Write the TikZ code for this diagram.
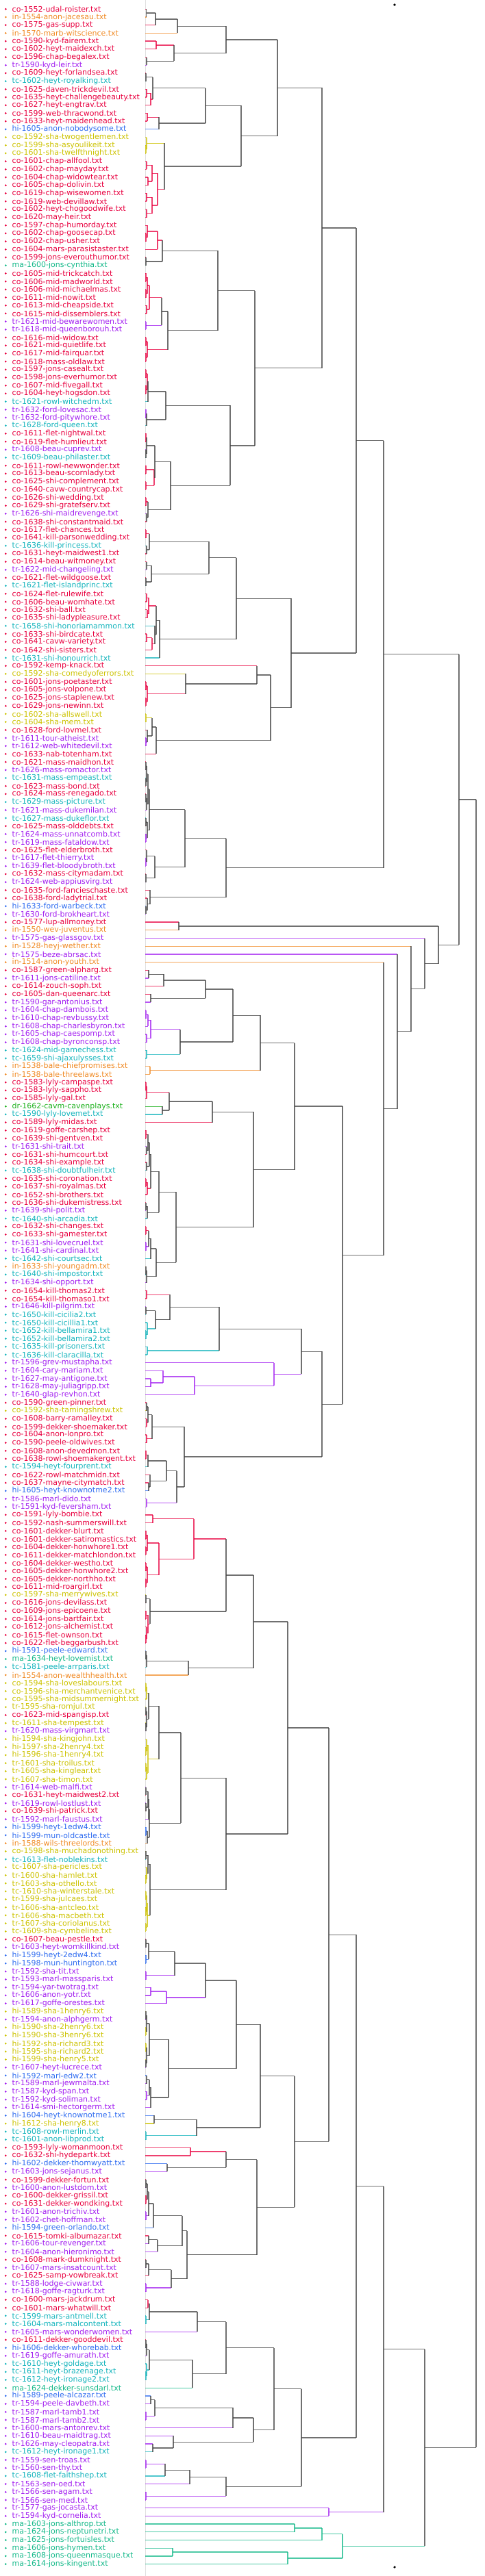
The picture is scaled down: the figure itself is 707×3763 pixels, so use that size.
\documentclass[tikz,border=0pt]{standalone}
\usepackage{fontspec}
\setmainfont{DejaVu Sans}
\usetikzlibrary{calc}
\definecolor{cco}{HTML}{E8003F}
\definecolor{cin}{HTML}{F08A24}
\definecolor{ctr}{HTML}{A21EF0}
\definecolor{ctc}{HTML}{14B4BC}
\definecolor{chi}{HTML}{2F6CF0}
\definecolor{cma}{HTML}{12B888}
\definecolor{cdr}{HTML}{1CB01C}
\definecolor{csh}{HTML}{CCC200}
\colorlet{cmix}{black!75}
% join two branches at height #4
\newcommand{\join}[4]{%
    \coordinate (#1m) at ($(#2)!0.5!(#3)$);
    \coordinate (#1) at (#4,0 |- #1m);
    \edef\ca{\csname k@#2\endcsname}%
    \edef\cb{\csname k@#3\endcsname}%
    \ifx\ca\cb \expandafter\xdef\csname k@#1\endcsname{\ca}%
    \else \expandafter\xdef\csname k@#1\endcsname{mix}\fi
    \edef\cc{c\csname k@#1\endcsname}%
    \draw[link,draw=c\ca] (#2) -- (#2 -| #1);
    \draw[link,draw=c\cb] (#3) -- (#3 -| #1);
    \draw[link,draw=\cc] (#2 -| #1) -- (#3 -| #1);
}
\tikzset{
    lab/.style={anchor=west,inner sep=0pt,font=\fontsize{11}{13}\selectfont},
    link/.style={line width=1.3pt,draw opacity=0.75}
}
\begin{document}
\begin{tikzpicture}[x=1pt,y=-1pt]
    \useasboundingbox (0,0) rectangle (707,3763);
    \draw[black!12,line width=1pt] (212,0) -- (212,3763);
    \fill (576,7) circle (1.8pt);
    \fill (576,3750) circle (1.8pt);
    % leaves
    \foreach \lab/\col [count=\i] in {
        co-1552-udal-roister.txt/co, in-1554-anon-jacesau.txt/in, co-1575-gas-supp.txt/co, in-1570-marb-witscience.txt/in,
        co-1590-kyd-fairem.txt/co, co-1602-heyt-maidexch.txt/co, co-1596-chap-begalex.txt/co, tr-1590-kyd-leir.txt/tr,
        co-1609-heyt-forlandsea.txt/co, tc-1602-heyt-royalking.txt/tc, co-1625-daven-trickdevil.txt/co, co-1635-heyt-challengebeauty.txt/co,
        co-1627-heyt-engtrav.txt/co, co-1599-web-thracwond.txt/co, co-1633-heyt-maidenhead.txt/co, hi-1605-anon-nobodysome.txt/hi,
        co-1592-sha-twogentlemen.txt/sh, co-1599-sha-asyoulikeit.txt/sh, co-1601-sha-twelfthnight.txt/sh, co-1601-chap-allfool.txt/co,
        co-1602-chap-mayday.txt/co, co-1604-chap-widowtear.txt/co, co-1605-chap-dolivin.txt/co, co-1619-chap-wisewomen.txt/co,
        co-1619-web-devillaw.txt/co, co-1602-heyt-chogoodwife.txt/co, co-1620-may-heir.txt/co, co-1597-chap-humorday.txt/co,
        co-1602-chap-goosecap.txt/co, co-1602-chap-usher.txt/co, co-1604-mars-parasistaster.txt/co, co-1599-jons-everouthumor.txt/co,
        ma-1600-jons-cynthia.txt/ma, co-1605-mid-trickcatch.txt/co, co-1606-mid-madworld.txt/co, co-1606-mid-michaelmas.txt/co,
        co-1611-mid-nowit.txt/co, co-1613-mid-cheapside.txt/co, co-1615-mid-dissemblers.txt/co, tr-1621-mid-bewarewomen.txt/tr,
        tr-1618-mid-queenborouh.txt/tr, co-1616-mid-widow.txt/co, co-1621-mid-quietlife.txt/co, co-1617-mid-fairquar.txt/co,
        co-1618-mass-oldlaw.txt/co, co-1597-jons-casealt.txt/co, co-1598-jons-everhumor.txt/co, co-1607-mid-fivegall.txt/co,
        co-1604-heyt-hogsdon.txt/co, tc-1621-rowl-witchedm.txt/tc, tr-1632-ford-lovesac.txt/tr, tr-1632-ford-pitywhore.txt/tr,
        tc-1628-ford-queen.txt/tc, co-1611-flet-nightwal.txt/co, co-1619-flet-humlieut.txt/co, tr-1608-beau-cuprev.txt/tr,
        tc-1609-beau-philaster.txt/tc, co-1611-rowl-newwonder.txt/co, co-1613-beau-scornlady.txt/co, co-1625-shi-complement.txt/co,
        co-1640-cavw-countrycap.txt/co, co-1626-shi-wedding.txt/co, co-1629-shi-gratefserv.txt/co, tr-1626-shi-maidrevenge.txt/tr,
        co-1638-shi-constantmaid.txt/co, co-1617-flet-chances.txt/co, co-1641-kill-parsonwedding.txt/co, tc-1636-kill-princess.txt/tc,
        co-1631-heyt-maidwest1.txt/co, co-1614-beau-witmoney.txt/co, tr-1622-mid-changeling.txt/tr, co-1621-flet-wildgoose.txt/co,
        tc-1621-flet-islandprinc.txt/tc, co-1624-flet-rulewife.txt/co, co-1606-beau-womhate.txt/co, co-1632-shi-ball.txt/co,
        co-1635-shi-ladypleasure.txt/co, tc-1658-shi-honoriamammon.txt/tc, co-1633-shi-birdcate.txt/co, co-1641-cavw-variety.txt/co,
        co-1642-shi-sisters.txt/co, tc-1631-shi-honourrich.txt/tc, co-1592-kemp-knack.txt/co, co-1592-sha-comedyoferrors.txt/sh,
        co-1601-jons-poetaster.txt/co, co-1605-jons-volpone.txt/co, co-1625-jons-staplenew.txt/co, co-1629-jons-newinn.txt/co,
        co-1602-sha-allswell.txt/sh, co-1604-sha-mem.txt/sh, co-1628-ford-lovmel.txt/co, tr-1611-tour-atheist.txt/tr,
        tr-1612-web-whitedevil.txt/tr, co-1633-nab-totenham.txt/co, co-1621-mass-maidhon.txt/co, tr-1626-mass-romactor.txt/tr,
        tc-1631-mass-empeast.txt/tc, co-1623-mass-bond.txt/co, co-1624-mass-renegado.txt/co, tc-1629-mass-picture.txt/tc,
        tr-1621-mass-dukemilan.txt/tr, tc-1627-mass-dukeflor.txt/tc, co-1625-mass-olddebts.txt/co, tr-1624-mass-unnatcomb.txt/tr,
        tr-1619-mass-fataldow.txt/tr, co-1625-flet-elderbroth.txt/co, tr-1617-flet-thierry.txt/tr, tr-1639-flet-bloodybroth.txt/tr,
        co-1632-mass-citymadam.txt/co, tr-1624-web-appiusvirg.txt/tr, co-1635-ford-fancieschaste.txt/co, co-1638-ford-ladytrial.txt/co,
        hi-1633-ford-warbeck.txt/hi, tr-1630-ford-brokheart.txt/tr, co-1577-lup-allmoney.txt/co, in-1550-wev-juventus.txt/in,
        tr-1575-gas-glassgov.txt/tr, in-1528-heyj-wether.txt/in, tr-1575-beze-abrsac.txt/tr, in-1514-anon-youth.txt/in,
        co-1587-green-alpharg.txt/co, tr-1611-jons-catiline.txt/tr, co-1614-zouch-soph.txt/co, co-1605-dan-queenarc.txt/co,
        tr-1590-gar-antonius.txt/tr, tr-1604-chap-dambois.txt/tr, tr-1610-chap-revbussy.txt/tr, tr-1608-chap-charlesbyron.txt/tr,
        tr-1605-chap-caespomp.txt/tr, tr-1608-chap-byronconsp.txt/tr, tc-1624-mid-gamechess.txt/tc, tc-1659-shi-ajaxulysses.txt/tc,
        in-1538-bale-chiefpromises.txt/in, in-1538-bale-threelaws.txt/in, co-1583-lyly-campaspe.txt/co, co-1583-lyly-sappho.txt/co,
        co-1585-lyly-gal.txt/co, dr-1662-cavm-cavenplays.txt/dr, tc-1590-lyly-lovemet.txt/tc, co-1589-lyly-midas.txt/co,
        co-1619-goffe-carshep.txt/co, co-1639-shi-gentven.txt/co, tr-1631-shi-trait.txt/tr, co-1631-shi-humcourt.txt/co,
        co-1634-shi-example.txt/co, tc-1638-shi-doubtfulheir.txt/tc, co-1635-shi-coronation.txt/co, co-1637-shi-royalmas.txt/co,
        co-1652-shi-brothers.txt/co, co-1636-shi-dukemistress.txt/co, tr-1639-shi-polit.txt/tr, tc-1640-shi-arcadia.txt/tc,
        co-1632-shi-changes.txt/co, co-1633-shi-gamester.txt/co, tr-1631-shi-lovecruel.txt/tr, tr-1641-shi-cardinal.txt/tr,
        tc-1642-shi-courtsec.txt/tc, in-1633-shi-youngadm.txt/in, tc-1640-shi-impostor.txt/tc, tr-1634-shi-opport.txt/tr,
        co-1654-kill-thomas2.txt/co, co-1654-kill-thomaso1.txt/co, tr-1646-kill-pilgrim.txt/tr, tc-1650-kill-cicilia2.txt/tc,
        tc-1650-kill-cicillia1.txt/tc, tc-1652-kill-bellamira1.txt/tc, tc-1652-kill-bellamira2.txt/tc, tc-1635-kill-prisoners.txt/tc,
        tc-1636-kill-claracilla.txt/tc, tr-1596-grev-mustapha.txt/tr, tr-1604-cary-mariam.txt/tr, tr-1627-may-antigone.txt/tr,
        tr-1628-may-juliagripp.txt/tr, tr-1640-glap-revhon.txt/tr, co-1590-green-pinner.txt/co, co-1592-sha-tamingshrew.txt/sh,
        co-1608-barry-ramalley.txt/co, co-1599-dekker-shoemaker.txt/co, co-1604-anon-lonpro.txt/co, co-1590-peele-oldwives.txt/co,
        co-1608-anon-devedmon.txt/co, co-1638-rowl-shoemakergent.txt/co, tc-1594-heyt-fourprent.txt/tc, co-1622-rowl-matchmidn.txt/co,
        co-1637-mayne-citymatch.txt/co, hi-1605-heyt-knownotme2.txt/hi, tr-1586-marl-dido.txt/tr, tr-1591-kyd-feversham.txt/tr,
        co-1591-lyly-bombie.txt/co, co-1592-nash-summerswill.txt/co, co-1601-dekker-blurt.txt/co, co-1601-dekker-satiromastics.txt/co,
        co-1604-dekker-honwhore1.txt/co, co-1611-dekker-matchlondon.txt/co, co-1604-dekker-westho.txt/co, co-1605-dekker-honwhore2.txt/co,
        co-1605-dekker-northho.txt/co, co-1611-mid-roargirl.txt/co, co-1597-sha-merrywives.txt/sh, co-1616-jons-devilass.txt/co,
        co-1609-jons-epicoene.txt/co, co-1614-jons-bartfair.txt/co, co-1612-jons-alchemist.txt/co, co-1615-flet-ownson.txt/co,
        co-1622-flet-beggarbush.txt/co, hi-1591-peele-edward.txt/hi, ma-1634-heyt-lovemist.txt/ma, tc-1581-peele-arrparis.txt/tc,
        in-1554-anon-wealthhealth.txt/in, co-1594-sha-loveslabours.txt/sh, co-1596-sha-merchantvenice.txt/sh, co-1595-sha-midsummernight.txt/sh,
        tr-1595-sha-romjul.txt/sh, co-1623-mid-spangisp.txt/co, tc-1611-sha-tempest.txt/sh, tr-1620-mass-virgmart.txt/tr,
        hi-1594-sha-kingjohn.txt/sh, hi-1597-sha-2henry4.txt/sh, hi-1596-sha-1henry4.txt/sh, tr-1601-sha-troilus.txt/sh,
        tr-1605-sha-kinglear.txt/sh, tr-1607-sha-timon.txt/sh, tr-1614-web-malfi.txt/tr, co-1631-heyt-maidwest2.txt/co,
        tr-1619-rowl-lostlust.txt/tr, co-1639-shi-patrick.txt/co, tr-1592-marl-faustus.txt/tr, hi-1599-heyt-1edw4.txt/hi,
        hi-1599-mun-oldcastle.txt/hi, in-1588-wils-threelords.txt/in, co-1598-sha-muchadonothing.txt/sh, tc-1613-flet-noblekins.txt/tc,
        tc-1607-sha-pericles.txt/sh, tr-1600-sha-hamlet.txt/sh, tr-1603-sha-othello.txt/sh, tc-1610-sha-winterstale.txt/sh,
        tr-1599-sha-julcaes.txt/sh, tr-1606-sha-antcleo.txt/sh, tr-1606-sha-macbeth.txt/sh, tr-1607-sha-coriolanus.txt/sh,
        tc-1609-sha-cymbeline.txt/sh, co-1607-beau-pestle.txt/co, tr-1603-heyt-womkillkind.txt/tr, hi-1599-heyt-2edw4.txt/hi,
        hi-1598-mun-huntington.txt/hi, tr-1592-sha-tit.txt/tr, tr-1593-marl-massparis.txt/tr, tr-1594-yar-twotrag.txt/tr,
        tr-1606-anon-yotr.txt/tr, tr-1617-goffe-orestes.txt/tr, hi-1589-sha-1henry6.txt/sh, tr-1594-anon-alphgerm.txt/tr,
        hi-1590-sha-2henry6.txt/sh, hi-1590-sha-3henry6.txt/sh, hi-1592-sha-richard3.txt/sh, hi-1595-sha-richard2.txt/sh,
        hi-1599-sha-henry5.txt/sh, tr-1607-heyt-lucrece.txt/tr, hi-1592-marl-edw2.txt/hi, tr-1589-marl-jewmalta.txt/tr,
        tr-1587-kyd-span.txt/tr, tr-1592-kyd-soliman.txt/tr, tr-1614-smi-hectorgerm.txt/tr, hi-1604-heyt-knownotme1.txt/hi,
        hi-1612-sha-henry8.txt/sh, tc-1608-rowl-merlin.txt/tc, tc-1601-anon-libprod.txt/tc, co-1593-lyly-womanmoon.txt/co,
        co-1632-shi-hydepartk.txt/co, hi-1602-dekker-thomwyatt.txt/hi, tr-1603-jons-sejanus.txt/tr, co-1599-dekker-fortun.txt/co,
        tr-1600-anon-lustdom.txt/tr, co-1600-dekker-grissil.txt/co, co-1631-dekker-wondking.txt/co, tr-1601-anon-trichiv.txt/tr,
        tr-1602-chet-hoffman.txt/tr, hi-1594-green-orlando.txt/hi, co-1615-tomki-albumazar.txt/co, tr-1606-tour-revenger.txt/tr,
        tr-1604-anon-hieronimo.txt/tr, co-1608-mark-dumknight.txt/co, tr-1607-mars-insatcount.txt/tr, co-1625-samp-vowbreak.txt/co,
        tr-1588-lodge-civwar.txt/tr, tr-1618-goffe-ragturk.txt/tr, co-1600-mars-jackdrum.txt/co, co-1601-mars-whatwill.txt/co,
        tc-1599-mars-antmell.txt/tc, tc-1604-mars-malcontent.txt/tc, tr-1605-mars-wonderwomen.txt/tr, co-1611-dekker-gooddevil.txt/co,
        hi-1606-dekker-whorebab.txt/hi, tr-1619-goffe-amurath.txt/tr, tc-1610-heyt-goldage.txt/tc, tc-1611-heyt-brazenage.txt/tc,
        tc-1612-heyt-ironage2.txt/tc, ma-1624-dekker-sunsdarl.txt/ma, hi-1589-peele-alcazar.txt/hi, tr-1594-peele-davbeth.txt/tr,
        tr-1587-marl-tamb1.txt/tr, tr-1587-marl-tamb2.txt/tr, tr-1600-mars-antonrev.txt/tr, tr-1610-beau-maidtrag.txt/tr,
        tr-1626-may-cleopatra.txt/tr, tc-1612-heyt-ironage1.txt/tc, tr-1559-sen-troas.txt/tr, tr-1560-sen-thy.txt/tr,
        tc-1608-flet-faithshep.txt/tc, tr-1563-sen-oed.txt/tr, tr-1566-sen-agam.txt/tr, tr-1566-sen-med.txt/tr,
        tr-1577-gas-jocasta.txt/tr, tr-1594-kyd-cornelia.txt/tr, ma-1603-jons-althrop.txt/ma, ma-1624-jons-neptunetri.txt/ma,
        ma-1625-jons-fortuisles.txt/ma, ma-1606-jons-hymen.txt/ma, ma-1608-jons-queenmasque.txt/ma, ma-1614-jons-kingent.txt/ma}
    {
        \pgfmathsetmacro\yy{13.3+(\i-1)*11.7}
        \fill[fill=c\col] (8.3,\yy) circle (1.5pt);
        \node[lab,text=c\col] (l\i) at (17.5,\yy) {\lab};
        \coordinate (t\i) at (212,\yy);
        \expandafter\xdef\csname k@t\i\endcsname{\col}
    }
    % small clusters
    \join{a1}{t1}{t2}{213.5} \join{a2}{a1}{t3}{227} \join{K1}{a2}{t4}{259}
    \join{a3}{t5}{t6}{228} \join{a4}{t7}{t8}{214} \join{K2}{a3}{a4}{254}
    \join{a5}{t9}{t10}{213} \join{a6}{t11}{t12}{214} \join{a7}{a6}{t13}{220} \join{K3}{a5}{a7}{223}
    \join{a8}{t14}{t15}{215} \join{K4}{a8}{t16}{232}
    \join{a9}{t18}{t19}{213} \join{a10}{t17}{a9}{214}
    \join{a11}{t20}{t21}{214} \join{a12}{t22}{t23}{216} \join{a13}{a11}{a12}{222}
    \join{a14}{t24}{t25}{214} \join{a15}{t26}{t27}{214} \join{a16}{a14}{a15}{222}
    \join{a17}{a13}{a16}{230} \join{K5}{a10}{a17}{240}
    \join{b1}{t29}{t30}{213} \join{b2}{t28}{b1}{215} \join{b3}{b2}{t31}{230}
    \join{b4}{t32}{t33}{213} \join{K6}{b3}{b4}{237}
    \join{b5}{t34}{t35}{213} \join{b6}{t36}{t37}{213} \join{b7}{b5}{b6}{215}
    \join{b8}{t38}{t39}{214} \join{b9}{b7}{b8}{218} \join{b10}{t40}{t41}{213}
    \join{b11}{b9}{b10}{236} \join{b12}{t42}{t43}{213} \join{b13}{t44}{t45}{213}
    \join{b14}{b12}{b13}{215} \join{K7}{b11}{b14}{245}
    \join{b15}{t46}{t47}{213} \join{b16}{t48}{t49}{213} \join{b17}{b15}{b16}{215}
    \join{b18}{b17}{t50}{216} \join{b19}{t51}{t52}{213} \join{b20}{b19}{t53}{214}
    \join{K8}{b18}{b20}{242}
    \join{c1}{t54}{t55}{213} \join{c2}{t56}{t57}{213} \join{c3}{c1}{c2}{214}
    \join{c4}{t58}{t59}{213} \join{c5}{t60}{t61}{213} \join{c6}{c4}{c5}{225}
    \join{c7}{c3}{c6}{226} \join{c8}{t62}{t63}{213} \join{c9}{t64}{t65}{214}
    \join{c10}{c8}{c9}{216} \join{K9}{c7}{c10}{249}
    \join{c11}{t66}{t67}{213} \join{c12}{t68}{t69}{214} \join{K10}{c11}{c12}{218}
    \join{c13}{t70}{t71}{214} \join{c14}{t72}{t73}{213} \join{K11}{c13}{c14}{221}
    \join{c15}{t74}{t75}{214} \join{c16}{t76}{t77}{215} \join{c17}{c15}{c16}{217}
    \join{c18}{t79}{t80}{214} \join{c19}{c18}{t81}{222} \join{c20}{t78}{c19}{226}
    \join{c21}{c17}{c20}{228} \join{K12}{c21}{t82}{233}
    \join{d1}{t85}{t86}{213} \join{d2}{t87}{t88}{213} \join{d3}{d1}{d2}{215}
    \join{K14}{t84}{d3}{271}
    \join{d4}{t89}{t90}{213} \join{d5}{t92}{t93}{213} \join{d6}{t91}{d5}{215}
    \join{d7}{d4}{d6}{222} \join{K15}{d7}{t94}{228}
    \join{d8}{t95}{t96}{213} \join{d9}{t97}{t98}{213} \join{d10}{d8}{d9}{214}
    \join{d11}{t99}{t100}{213} \join{d12}{d11}{t101}{214} \join{d13}{d10}{d12}{216}
    \join{d14}{t102}{t103}{213} \join{d15}{t104}{t105}{213} \join{d16}{d14}{d15}{215}
    \join{d17}{d13}{d16}{218}
    \join{d18}{t107}{t108}{213} \join{d19}{t106}{d18}{214} \join{d20}{t109}{t110}{213}
    \join{d21}{d19}{d20}{226} \join{K16}{d17}{d21}{270}
    \join{d22}{t113}{t114}{213} \join{d23}{t112}{d22}{215} \join{K17}{t111}{d23}{219}
    \join{K18}{t115}{t116}{261}
    \join{e1}{t121}{t122}{217} \join{K23}{e1}{t123}{239}
    \join{K24}{t124}{t125}{220}
    \join{e2}{t126}{t127}{213} \join{e3}{e2}{t128}{216} \join{e4}{t129}{t130}{214}
    \join{e5}{e3}{e4}{220} \join{e6}{t131}{t132}{214} \join{K25}{e5}{e6}{263}
    \join{K26}{t133}{t134}{219}
    \join{e7}{t135}{t136}{213} \join{e8}{e7}{t137}{214} \join{e9}{t138}{t139}{237}
    \join{K27}{e8}{e9}{247}
    \join{f1}{t141}{t142}{213} \join{f2}{t143}{t144}{214} \join{f3}{f1}{f2}{216}
    \join{f4}{t145}{t146}{214} \join{f5}{f3}{f4}{218} \join{f6}{t147}{t148}{213}
    \join{f7}{f6}{t149}{215} \join{f8}{f5}{f7}{220} \join{f9}{t150}{t151}{213}
    \join{f10}{f9}{t152}{215} \join{f11}{f8}{f10}{232} \join{f12}{t153}{t154}{213}
    \join{f13}{t155}{t156}{213} \join{f14}{f12}{f13}{217} \join{f15}{f14}{t157}{220}
    \join{f16}{t158}{t159}{213} \join{f17}{f16}{t160}{214} \join{f18}{f15}{f17}{228}
    \join{K29}{f11}{f18}{257}
    \join{g1}{t161}{t162}{214} \join{g2}{t163}{t164}{213} \join{g3}{t166}{t167}{213}
    \join{g4}{t165}{g3}{215} \join{g5}{g2}{g4}{227} \join{K30}{g1}{g5}{248}
    \join{K31}{t168}{t169}{215}
    \join{g6}{t172}{t173}{220} \join{g7}{t171}{g6}{238} \join{K33}{g7}{t174}{284}
    \join{g8}{t175}{t176}{214} \join{g9}{t177}{t178}{214} \join{g10}{g8}{g9}{216}
    \join{g11}{t179}{t180}{214} \join{g12}{g10}{g11}{222} \join{g13}{t181}{t182}{213}
    \join{g14}{g13}{t183}{216} \join{g15}{t185}{t186}{217} \join{g16}{t184}{g15}{219}
    \join{g17}{g14}{g16}{243} \join{g18}{t187}{t188}{214} \join{g19}{g17}{g18}{258}
    \join{K34}{g12}{g19}{269}
    \join{h1}{t189}{t190}{223} \join{h2}{t191}{t192}{213} \join{h3}{t193}{t194}{213}
    \join{h4}{h2}{h3}{215} \join{h5}{t195}{t196}{213} \join{h6}{t197}{t198}{213}
    \join{h7}{h5}{h6}{215} \join{h8}{h4}{h7}{232} \join{K35}{h1}{h8}{283}
    \join{h9}{t199}{t200}{213} \join{h10}{t201}{t202}{213} \join{h11}{t204}{t205}{213}
    \join{h12}{t203}{h11}{214} \join{h13}{h10}{h12}{216} \join{K36}{h9}{h13}{219}
    \join{h14}{t206}{t207}{213} \join{h15}{h14}{t208}{214} \join{K37}{h15}{t209}{275}
    \join{i1}{t210}{t211}{213} \join{i2}{i1}{t212}{214} \join{i3}{t213}{t214}{213}
    \join{i4}{t215}{t216}{213} \join{i5}{i3}{i4}{214} \join{i6}{i2}{i5}{217}
    \join{i7}{t218}{t219}{213} \join{i8}{t217}{i7}{214} \join{i9}{t220}{t221}{213}
    \join{i10}{i9}{t222}{214} \join{i11}{i8}{i10}{216} \join{i12}{i6}{i11}{232}
    \join{i13}{t223}{t224}{213} \join{i14}{t225}{t226}{213} \join{i15}{i13}{i14}{216}
    \join{i16}{i15}{t227}{217} \join{i17}{t228}{t229}{213} \join{i18}{i17}{t230}{215}
    \join{i19}{i16}{i18}{218} \join{K38}{i12}{i19}{264}
    \join{j1}{t231}{t232}{213} \join{j2}{t234}{t235}{213} \join{j3}{t233}{j2}{214}
    \join{j4}{j1}{j3}{216} \join{j5}{t236}{t237}{213} \join{j6}{t238}{t239}{213}
    \join{j7}{j5}{j6}{214} \join{j8}{t240}{t241}{213} \join{j9}{j7}{j8}{215}
    \join{K39}{j4}{j9}{219}
    \join{j10}{t242}{t243}{213} \join{j11}{t244}{t245}{213} \join{j12}{j10}{j11}{217}
    \join{j13}{t246}{t247}{213} \join{K40}{j12}{j13}{255}
    \join{j14}{t248}{t249}{220} \join{K41}{j14}{t250}{243}
    \join{k1}{t251}{t252}{213} \join{k2}{t253}{t254}{213} \join{k3}{k1}{k2}{214}
    \join{k4}{t255}{t256}{213} \join{k5}{t257}{t258}{213} \join{k6}{k4}{k5}{214}
    \join{k7}{k3}{k6}{218} \join{k8}{t259}{t260}{214} \join{k9}{t261}{t262}{214}
    \join{k10}{k8}{k9}{218} \join{k11}{k10}{t263}{220} \join{K42}{k7}{k11}{246}
    \join{k12}{t264}{t265}{225} \join{k13}{t266}{t267}{213} \join{K43}{k12}{k13}{287}
    \join{K44}{t268}{t269}{278}
    \join{K45}{t270}{t271}{244}
    \join{m1}{t272}{t273}{213} \join{m2}{t274}{t275}{213} \join{m3}{m1}{m2}{215}
    \join{m4}{t276}{t277}{213} \join{m5}{m3}{m4}{217} \join{m6}{m5}{t278}{224}
    \join{m7}{t279}{t280}{217} \join{m8}{m7}{t281}{230} \join{m9}{m6}{m8}{266}
    \join{m10}{t282}{t283}{213} \join{m11}{m10}{t284}{217} \join{m12}{t285}{t286}{213}
    \join{m13}{m11}{m12}{250} \join{K46}{m9}{m13}{273}
    \join{m14}{t287}{t288}{216} \join{m15}{t289}{t290}{213} \join{m16}{m14}{m15}{218}
    \join{K47}{m16}{t291}{288}
    \join{n1}{t292}{t293}{213} \join{n2}{n1}{t294}{214} \join{n3}{t296}{t297}{213}
    \join{n4}{t295}{n3}{214} \join{n5}{n2}{n4}{218} \join{K48}{n5}{t298}{281}
    \join{n6}{t299}{t300}{220} \join{n7}{t301}{t302}{213} \join{K49}{n6}{n7}{226}
    \join{n8}{t305}{t306}{223} \join{K51}{t304}{n8}{253}
    \join{n9}{t307}{t308}{213} \join{n10}{n9}{t309}{241} \join{K52}{n10}{t310}{277}
    \join{K53}{t311}{t312}{213}
    \join{K59}{t318}{t319}{252}
    % upper levels
    \join{p1}{K1}{K2}{330} \join{p2}{K3}{K4}{300} \join{p3}{p2}{K5}{352}
    \join{p4}{p1}{p3}{405} \join{p5}{K6}{K7}{318} \join{p6}{K8}{K9}{336}
    \join{p7}{p5}{p6}{372} \join{p8}{p4}{p7}{470} \join{p9}{K10}{K11}{305}
    \join{p10}{p9}{K12}{345} \join{p11}{t83}{K14}{375} \join{p12}{p11}{K15}{395}
    \join{p13}{p10}{p12}{425} \join{p14}{p8}{p13}{520} \join{p15}{K16}{K17}{330}
    \join{p16}{p14}{p15}{560}
    \join{q1}{K23}{K24}{300} \join{q2}{q1}{K25}{340} \join{q3}{q2}{K26}{380}
    \join{q4}{K27}{t140}{310} \join{q5}{q4}{K29}{370} \join{q6}{q3}{q5}{430}
    \join{q7}{K30}{K31}{320} \join{q8}{t170}{K33}{400} \join{q9}{q7}{q8}{440}
    \join{q10}{q9}{K34}{470} \join{q11}{q6}{q10}{500} \join{q12}{t120}{q11}{560}
    \join{q13}{t119}{q12}{580} \join{q14}{t118}{q13}{600} \join{q15}{t117}{q14}{620}
    \join{q16}{K18}{q15}{640}
    \join{top}{p16}{q16}{670}
    \join{r1}{K35}{K36}{330} \join{r2}{r1}{K37}{370} \join{r3}{K38}{K39}{330}
    \join{r4}{r2}{r3}{420} \join{r5}{K40}{K41}{300} \join{r6}{r5}{K42}{345}
    \join{r7}{r6}{K43}{380} \join{r8}{K44}{K45}{330} \join{r9}{r8}{K46}{375}
    \join{r10}{r7}{r9}{430} \join{r11}{r4}{r10}{480} \join{r12}{K47}{K48}{330}
    \join{r13}{K49}{t303}{340} \join{r14}{r13}{K51}{370} \join{r15}{r12}{r14}{400}
    \join{r16}{K52}{K53}{330} \join{r17}{r15}{r16}{440} \join{r18}{r11}{r17}{520}
    \join{s1}{t315}{t316}{430} \join{s2}{s1}{t317}{470} \join{s3}{K59}{t320}{420}
    \join{s4}{s2}{s3}{500} \join{s5}{t313}{t314}{480} \join{s6}{r18}{s5}{560}
    \join{bot}{s6}{s4}{620}
    \join{root}{top}{bot}{695}
\end{tikzpicture}
\end{document}
